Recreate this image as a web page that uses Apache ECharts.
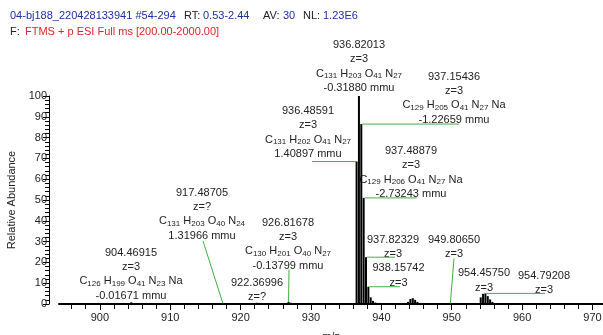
<!DOCTYPE html>
<html><head><meta charset="utf-8">
<script src="https://cdn.jsdelivr.net/npm/echarts/dist/echarts.min.js"></script>
<style>html,body{margin:0;padding:0;background:#fff}#c{width:603px;height:335px}</style>
</head><body><div id="c"></div>
<script>
// ---- data ----
const peakMz = [904.469, 917.487, 922.370, 926.817, 927.150,
  936.486, 936.820, 937.154, 937.489, 937.823, 938.157, 938.490, 938.824, 939.158,
  943.80, 944.13, 944.47, 944.80, 945.13, 945.47, 949.807,
  954.124, 954.458, 954.792, 955.126, 955.46, 955.79, 956.13];
const peakRel = [0.8, 0.3, 0.6, 1.0, 0.6,
  68.5, 100, 86.5, 51, 22.5, 8.3, 3.2, 1.5, 0.7,
  1.0, 2.4, 2.8, 2.0, 1.0, 0.5, 0.3,
  3.2, 4.9, 5.1, 3.8, 2.2, 1.0, 0.4];
const xMajorTicks = [900, 910, 920, 930, 940, 950, 960, 970];
const yTicks = [0, 10, 20, 30, 40, 50, 60, 70, 80, 90, 100];
const headerLine1 = [
  ['04-bj188_220428133941 #54-294', 'blue'], ['RT:', 'black'], ['0.53-2.44', 'blue'],
  ['AV:', 'black'], ['30', 'blue'], ['NL:', 'black'], ['1.23E6', 'blue']];
const headerLine2 = [['F:', 'black'], ['FTMS + p ESI Full ms [200.00-2000.00]', 'red']];
// annotations: mz of labelled peak, text lines
const annMz = [936.82013, 937.15436, 936.48591, 937.48879, 917.48705, 904.46915, 926.81678,
  922.36996, 937.82329, 938.15742, 949.80650, 954.45750, 954.79208];
const annLines = [
  ['936.82013', 'z=3', 'C131 H203 O41 N27', '-0.31880 mmu'],
  ['937.15436', 'z=3', 'C129 H205 O41 N27 Na', '-1.22659 mmu'],
  ['936.48591', 'z=3', 'C131 H202 O41 N27', '1.40897 mmu'],
  ['937.48879', 'z=3', 'C129 H206 O41 N27 Na', '-2.73243 mmu'],
  ['917.48705', 'z=?', 'C131 H203 O40 N24', '1.31966 mmu'],
  ['904.46915', 'z=3', 'C126 H199 O41 N23 Na', '-0.01671 mmu'],
  ['926.81678', 'z=3', 'C130 H201 O40 N27', '-0.13799 mmu'],
  ['922.36996', 'z=?'],
  ['937.82329', 'z=3'],
  ['938.15742', 'z=3'],
  ['949.80650', 'z=3'],
  ['954.45750', 'z=3'],
  ['954.79208', 'z=3']];

// ---- layout (pixels) ----
const annPos = [[359, 45], [454, 76.7], [308, 111], [411, 151], [202, 192.7], [131, 252.7],
  [288, 222.7], [257, 282.7], [393, 240], [398.5, 268.3], [454, 240], [484, 273.3], [544, 275.7]];
// leader: null | ['h', endX] | ['s', startX, startY]
const annLeader = [null, ['h', 459], ['h', 312], ['h', 416.7], ['s', 203, 241], null,
  ['s', 289, 269.5], null, ['h', 395], ['h', 400], ['s', 454, 258.5], null, ['h', 545]];

const FONT = "'Liberation Sans', Arial, sans-serif";
const COLORS = {blue: '#1f2f9f', black: '#222', red: '#e02424'};
const GREEN = '#46ad46';
const LINE_H = 14.3;
const X_MIN = 894.2, X_MAX = 971.5;

const chart = echarts.init(document.getElementById('c'), null, {renderer: 'canvas'});

const minorTicks = [];
for (let v = 896; v <= 971; v += 2) if (v % 10 !== 0) minorTicks.push(v);

const gridRect = {left: 59, right: 0, top: 96, bottom: 31, containLabel: false, outerBoundsMode: 'none'};

chart.setOption({
  animation: false,
  backgroundColor: '#fff',
  grid: [Object.assign({}, gridRect), Object.assign({}, gridRect)],
  xAxis: [{
    type: 'value', gridIndex: 0, min: X_MIN, max: X_MAX, position: 'bottom',
    name: 'm/z', nameLocation: 'middle', nameGap: 27,
    nameTextStyle: {fontFamily: FONT, fontSize: 11, color: '#222'},
    axisLine: {show: true, lineStyle: {color: '#000', width: 2}},
    axisTick: {show: true, customValues: xMajorTicks, length: 6, lineStyle: {color: '#000', width: 1}},
    axisLabel: {show: true, customValues: xMajorTicks, margin: 8, fontFamily: FONT, fontSize: 11, color: '#222'},
    splitLine: {show: false}
  }, {
    type: 'value', gridIndex: 1, min: X_MIN, max: X_MAX, position: 'bottom',
    axisLine: {show: false},
    axisTick: {show: true, customValues: minorTicks, length: 5, lineStyle: {color: '#000', width: 1}},
    axisLabel: {show: true, customValues: minorTicks, formatter: () => ''},
    splitLine: {show: false}
  }],
  yAxis: [{
    type: 'value', gridIndex: 0, min: 0, max: 100, interval: 10, offset: 10,
    name: 'Relative Abundance', nameLocation: 'middle', nameGap: 24, nameRotate: 90,
    nameTextStyle: {fontFamily: FONT, fontSize: 11, color: '#222'},
    axisLine: {show: true, lineStyle: {color: '#000', width: 1}},
    axisTick: {show: true, length: 6, lineStyle: {color: '#000'}},
    minorTick: {show: true, splitNumber: 5, length: 4, lineStyle: {color: '#000'}},
    axisLabel: {margin: 2, fontFamily: FONT, fontSize: 11, color: '#222',
      formatter: v => yTicks.indexOf(v) >= 0 ? String(v) : ''},
    splitLine: {show: false}
  }, {
    type: 'value', gridIndex: 1, min: 0, max: 100, show: false
  }],
  series: [{
    type: 'bar', xAxisIndex: 0, yAxisIndex: 0, barWidth: 2,
    itemStyle: {color: '#000'},
    data: peakMz.map((m, i) => [m, peakRel[i]])
  }]
});

function formulaRich(f) {
  return f.split(' ').map(tok => {
    const m = tok.match(/^([A-Za-z]+)(\d*)$/);
    return '{n|' + m[1] + '}' + (m[2] ? '{s|' + m[2] + '}' : '');
  }).join('{n| }');
}

const g = [];
function headerRow(parts, xs, y) {
  parts.forEach((p, i) => g.push({type: 'text', x: xs[i], y: y, silent: true,
    style: {text: p[0], fontFamily: FONT, fontSize: 11, fill: COLORS[p[1]],
      align: 'left', textAlign: 'left', verticalAlign: 'middle', textVerticalAlign: 'middle'}}));
}
headerRow(headerLine1, [10, 184, 203, 263, 283, 303, 323], 16);
headerRow(headerLine2, [10, 25], 31.5);

annLines.forEach((lines, k) => {
  const [cx, y0] = annPos[k];
  lines.forEach((t, i) => {
    const isF = /^[A-Z][a-z]?\d/.test(t) && t.indexOf(' ') > 0 && !/mmu/.test(t);
    const st = {fontFamily: FONT, fontSize: 11, fill: '#222', align: 'center', textAlign: 'center',
      verticalAlign: 'middle', textVerticalAlign: 'middle'};
    if (isF) {
      st.text = formulaRich(t);
      st.rich = {
        n: {fontFamily: FONT, fontSize: 11, fill: '#222', lineHeight: 13},
        s: {fontFamily: FONT, fontSize: 8, fill: '#222', lineHeight: 13, verticalAlign: 'bottom'}
      };
    } else st.text = t;
    g.push({type: 'text', x: cx, y: y0 + i * LINE_H, silent: true, style: st});
  });
  const ld = annLeader[k];
  if (ld) {
    let bi = 0;
    peakMz.forEach((m, i) => { if (Math.abs(m - annMz[k]) < Math.abs(peakMz[bi] - annMz[k])) bi = i; });
    const p = chart.convertToPixel({seriesIndex: 0}, [peakMz[bi], peakRel[bi]]);
    let shape;
    if (ld[0] === 'h') shape = {x1: p[0] + 1, y1: p[1], x2: ld[1], y2: p[1]};
    else shape = {x1: ld[1], y1: ld[2], x2: p[0], y2: p[1]};
    g.push({type: 'line', silent: true, shape: shape, style: {stroke: GREEN, lineWidth: 1}, z: 10});
  }
});
chart.setOption({graphic: g});
</script></body></html>
